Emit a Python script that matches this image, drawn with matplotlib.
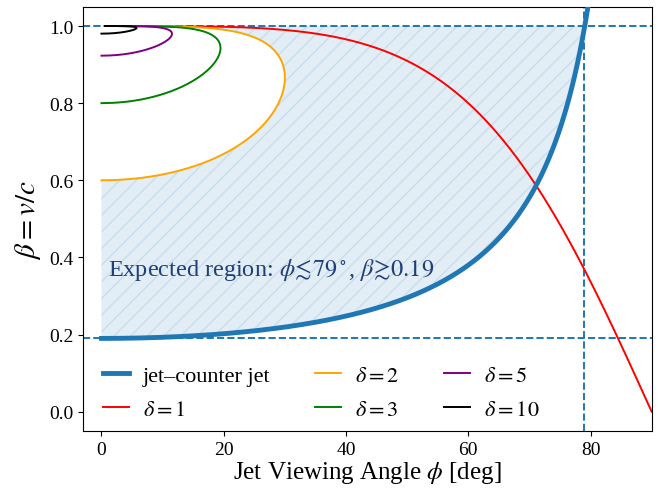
import numpy as np
import matplotlib
matplotlib.use("Agg")
import matplotlib.pyplot as plt

plt.rcParams['font.family'] = ['Liberation Serif', 'DejaVu Serif']
plt.rcParams['mathtext.fontset'] = 'stix'

# jet / counter-jet constraint: beta * cos(phi) >= beta_min
beta_min = 0.19
phi_max = 79.0

# Doppler factor contours
deltas = [1, 2, 3, 5, 10]
delta_colors = ['red', 'orange', 'green', 'purple', 'black']
# shaded region stays outside this contour
delta_edge = 2


def doppler_phi(beta, delta):
    """Viewing angle (deg) giving Doppler factor delta at speed beta."""
    cosphi = (1 - np.sqrt(1 - beta**2) / delta) / beta
    return np.degrees(np.arccos(np.clip(cosphi, -1, 1)))


def doppler_contour(delta, n=600):
    b_lo = (delta**2 - 1) / (delta**2 + 1)
    beta = np.linspace(max(b_lo, 1e-4), 1 - 1e-7, n)
    return doppler_phi(beta, delta), beta


fig = plt.figure(figsize=(6.65, 4.89), dpi=100)
ax = fig.add_axes([0.125, 0.1166, 0.855, 0.8676])

# jet-counter jet curve
phi_j = np.linspace(0, 80.5, 800)
beta_j = beta_min / np.cos(np.radians(phi_j))
ax.plot(phi_j, beta_j, color='#1f77b4', lw=3.5, label='jet–counter jet', zorder=4)

# allowed region: right of the delta=2 contour, above the jet-counter jet curve
b_edge = (delta_edge**2 - 1) / (delta_edge**2 + 1)
beta_f = np.linspace(beta_min, 1.0, 800)
left = np.where(beta_f > b_edge, doppler_phi(beta_f, delta_edge), 0.0)
right = np.degrees(np.arccos(beta_min / beta_f))
ax.fill_betweenx(beta_f, left, right,
                 facecolor='#1f77b4', edgecolor='#1f77b4', alpha=0.13,
                 hatch='//', linewidth=0, zorder=1)

for d, c in zip(deltas, delta_colors):
    phi, beta = doppler_contour(d)
    ax.plot(phi, beta, color=c, lw=1.4, label=rf'$\delta = {d}$', zorder=3)

ax.axhline(1.0, color='#1f77b4', ls='--', lw=1.4, zorder=2)
ax.axhline(beta_min, color='#1f77b4', ls='--', lw=1.4, zorder=2)
ax.axvline(phi_max, color='#1f77b4', ls='--', lw=1.4, zorder=2)

ax.text(1, 0.37,
        rf'Expected region: $\phi\!\lesssim\!{phi_max:.0f}^\circ$, $\beta\!\gtrsim\!{beta_min}$',
        color='#1f3f7a', fontsize=17.5, va='center', ha='left')

ax.set_xlim(-3, 90)
ax.set_ylim(-0.05, 1.05)
ax.set_xticks([0, 20, 40, 60, 80])
ax.set_yticks([0.0, 0.2, 0.4, 0.6, 0.8, 1.0])
ax.tick_params(labelsize=14)
ax.set_xlabel(r'Jet Viewing Angle $\phi$ [deg]', fontsize=18, labelpad=1)
ax.set_ylabel(r'$\beta = v/c$', fontsize=21)

ax.legend(loc='lower left', bbox_to_anchor=(0, -0.021), ncol=3, frameon=False,
          fontsize=16, handlelength=1.15, handletextpad=0.65,
          columnspacing=2.0, labelspacing=0.6)

plt.savefig('out.png', dpi=100)
plt.close(fig)
